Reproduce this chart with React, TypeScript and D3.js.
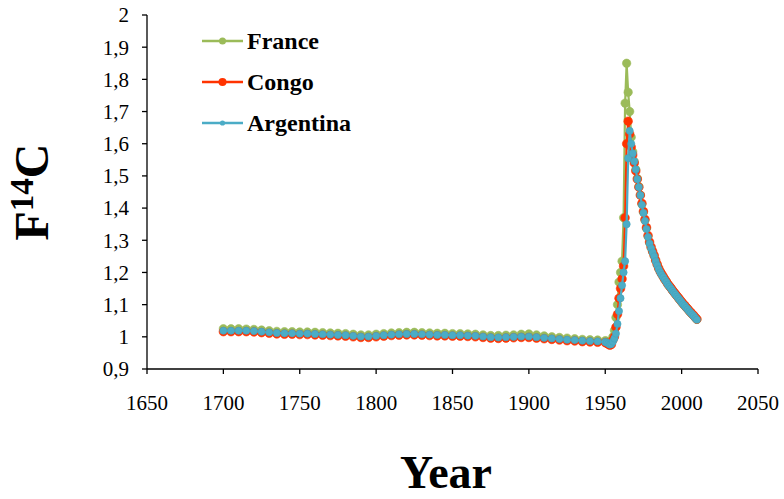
import React from 'react';
import * as d3 from 'd3';

// years: 5-year steps before the bomb period, then yearly
const baseYears = d3.range(1700, 1950, 5);
const bombYears = d3.range(1950, 2011, 1);

const franceBase = [
  1.025, 1.025, 1.025, 1.024, 1.023, 1.021, 1.019, 1.017, 1.016, 1.016,
  1.015, 1.015, 1.014, 1.013, 1.012, 1.011, 1.010, 1.008, 1.006, 1.006,
  1.008, 1.010, 1.012, 1.013, 1.014, 1.014, 1.013, 1.012, 1.011, 1.011,
  1.010, 1.010, 1.009, 1.008, 1.006, 1.004, 1.004, 1.005, 1.006, 1.008,
  1.009, 1.006, 1.003, 1.000, 0.998, 0.996, 0.994, 0.992, 0.991, 0.990,
];
const congoBase = [
  1.016, 1.016, 1.016, 1.016, 1.015, 1.013, 1.011, 1.009, 1.008, 1.008,
  1.007, 1.007, 1.006, 1.005, 1.004, 1.003, 1.002, 1.000, 0.998, 0.998,
  1.000, 1.002, 1.004, 1.005, 1.006, 1.006, 1.005, 1.004, 1.003, 1.003,
  1.002, 1.002, 1.001, 1.000, 0.998, 0.996, 0.995, 0.996, 0.997, 0.998,
  0.998, 0.996, 0.994, 0.992, 0.990, 0.988, 0.987, 0.985, 0.984, 0.983,
];
const argentinaBase = [
  1.019, 1.019, 1.019, 1.019, 1.018, 1.016, 1.014, 1.012, 1.011, 1.011,
  1.010, 1.010, 1.009, 1.008, 1.007, 1.006, 1.005, 1.003, 1.001, 1.001,
  1.003, 1.005, 1.007, 1.008, 1.009, 1.009, 1.008, 1.007, 1.006, 1.006,
  1.005, 1.005, 1.004, 1.003, 1.001, 0.999, 0.998, 0.999, 1.000, 1.001,
  1.001, 0.999, 0.997, 0.995, 0.993, 0.991, 0.990, 0.988, 0.987, 0.986,
];

const franceBomb = [
  0.988, 0.986, 0.983, 0.981, 0.985, 1.00, 1.02, 1.06, 1.10, 1.17,
  1.20, 1.235, 1.37, 1.726, 1.85, 1.76, 1.70, 1.62, 1.575, 1.545,
  1.52, 1.492, 1.467, 1.441, 1.412, 1.387, 1.362, 1.337, 1.312, 1.292,
  1.277, 1.264, 1.252, 1.237, 1.224, 1.212, 1.202, 1.194, 1.186, 1.178,
  1.171, 1.163, 1.157, 1.151, 1.144, 1.138, 1.132, 1.126, 1.120, 1.114,
  1.108, 1.102, 1.097, 1.091, 1.086, 1.080, 1.075, 1.070, 1.065, 1.059,
  1.054,
];
const congoBomb = [
  0.982, 0.980, 0.977, 0.974, 0.976, 0.99, 1.00, 1.03, 1.07, 1.12,
  1.15, 1.18, 1.22, 1.37, 1.60, 1.67, 1.63, 1.59, 1.565, 1.54,
  1.515, 1.49, 1.465, 1.44, 1.415, 1.39, 1.365, 1.34, 1.315, 1.295,
  1.28, 1.266, 1.253, 1.238, 1.225, 1.213, 1.203, 1.195, 1.187, 1.179,
  1.172, 1.164, 1.158, 1.152, 1.145, 1.139, 1.133, 1.127, 1.121, 1.115,
  1.109, 1.103, 1.098, 1.092, 1.087, 1.081, 1.076, 1.071, 1.066, 1.060,
  1.055,
];
const argentinaBomb = [
  0.984, 0.982, 0.979, 0.976, 0.978, 0.985, 0.995, 1.01, 1.04, 1.08,
  1.12, 1.16, 1.20, 1.235, 1.35, 1.555, 1.64, 1.60, 1.57, 1.545,
  1.52, 1.49, 1.465, 1.44, 1.41, 1.385, 1.36, 1.335, 1.31, 1.29,
  1.275, 1.262, 1.25, 1.235, 1.222, 1.21, 1.20, 1.192, 1.185, 1.177,
  1.17, 1.162, 1.156, 1.15, 1.143, 1.137, 1.131, 1.125, 1.119, 1.113,
  1.107, 1.101, 1.096, 1.09, 1.085, 1.079, 1.074, 1.069, 1.064, 1.058,
  1.053,
];

const xTicks = [1650, 1700, 1750, 1800, 1850, 1900, 1950, 2000, 2050];
const yTicks = [0.9, 1.0, 1.1, 1.2, 1.3, 1.4, 1.5, 1.6, 1.7, 1.8, 1.9, 2.0];
const yTickLabels = ['0,9', '1', '1,1', '1,2', '1,3', '1,4', '1,5', '1,6', '1,7', '1,8', '1,9', '2'];

const serif = '"Liberation Serif", "Times New Roman", serif';

const series = [
  { name: 'France', color: '#9BBB59', stroke: '#9BBB59', r: 4.2, legR: 3.5, base: franceBase, bomb: franceBomb },
  { name: 'Congo', color: '#FF3300', stroke: '#FF3300', r: 4.3, legR: 4, base: congoBase, bomb: congoBomb },
  { name: 'Argentina', color: '#4BACC6', stroke: '#43A2BC', r: 3.6, legR: 2.6, base: argentinaBase, bomb: argentinaBomb },
];

export default function App() {
  const width = 784;
  const height = 499;

  const x = d3.scaleLinear().domain([1650, 2050]).range([147, 758]);
  const y = d3.scaleLinear().domain([0.9, 2.0]).range([369, 15]);

  const line = d3.line<[number, number]>()
    .x(d => x(d[0]))
    .y(d => y(d[1]));

  return (
    <svg width={width} height={height} style={{ position: 'absolute', left: 0, top: 0, background: '#fff' }}>
      {/* axes */}
      <line x1={x(1650)} x2={x(2050)} y1={y(0.9)} y2={y(0.9)} stroke="#000" strokeWidth={1.3} />
      <line x1={x(1650)} x2={x(1650)} y1={y(0.9)} y2={y(2.0)} stroke="#000" strokeWidth={1.3} />
      {yTicks.map((t, i) => (
        <g key={'y' + i}>
          <line x1={x(1650) - 5} x2={x(1650)} y1={y(t)} y2={y(t)} stroke="#000" strokeWidth={1.3} />
          <text x={129} y={y(t)} dy="0.35em" textAnchor="end" fontFamily={serif} fontSize={21}>
            {yTickLabels[i]}
          </text>
        </g>
      ))}
      {xTicks.map(t => (
        <g key={'x' + t}>
          <line x1={x(t)} x2={x(t)} y1={y(0.9)} y2={y(0.9) + 5} stroke="#000" strokeWidth={1.3} />
          <text x={x(t)} y={410} textAnchor="middle" fontFamily={serif} fontSize={21}>
            {t}
          </text>
        </g>
      ))}

      {/* series */}
      {series.map(s => {
        const pts: [number, number][] = [
          ...baseYears.map((yr, i) => [yr, s.base[i]] as [number, number]),
          ...bombYears.map((yr, i) => [yr, s.bomb[i]] as [number, number]),
        ];
        return (
          <g key={s.name}>
            <path d={line(pts) || ''} fill="none" stroke={s.color} strokeWidth={2.2} />
            {pts.map((p, i) => (
              <circle key={i} cx={x(p[0])} cy={y(p[1])} r={s.r} fill={s.color} stroke={s.stroke} strokeWidth={0.6} />
            ))}
          </g>
        );
      })}

      {/* legend */}
      {series.map((s, i) => {
        const ly = 41 + i * 41;
        return (
          <g key={'leg' + s.name}>
            <line x1={202} x2={243} y1={ly} y2={ly} stroke={s.color} strokeWidth={2.5} />
            <circle cx={222.5} cy={ly} r={s.legR} fill={s.color} />
            <text x={247} y={ly + 8} fontFamily={serif} fontSize={24} fontWeight="bold">{s.name}</text>
          </g>
        );
      })}

      {/* axis titles */}
      <text x={446} y={488} textAnchor="middle" fontFamily={serif} fontSize={46} fontWeight="bold">Year</text>
      <text transform="translate(48,192) rotate(-90)" textAnchor="middle" fontFamily={serif} fontSize={48} fontWeight="bold">
        F<tspan fontSize={33} dy={-15}>14</tspan><tspan dy={15}>C</tspan>
      </text>
    </svg>
  );
}
